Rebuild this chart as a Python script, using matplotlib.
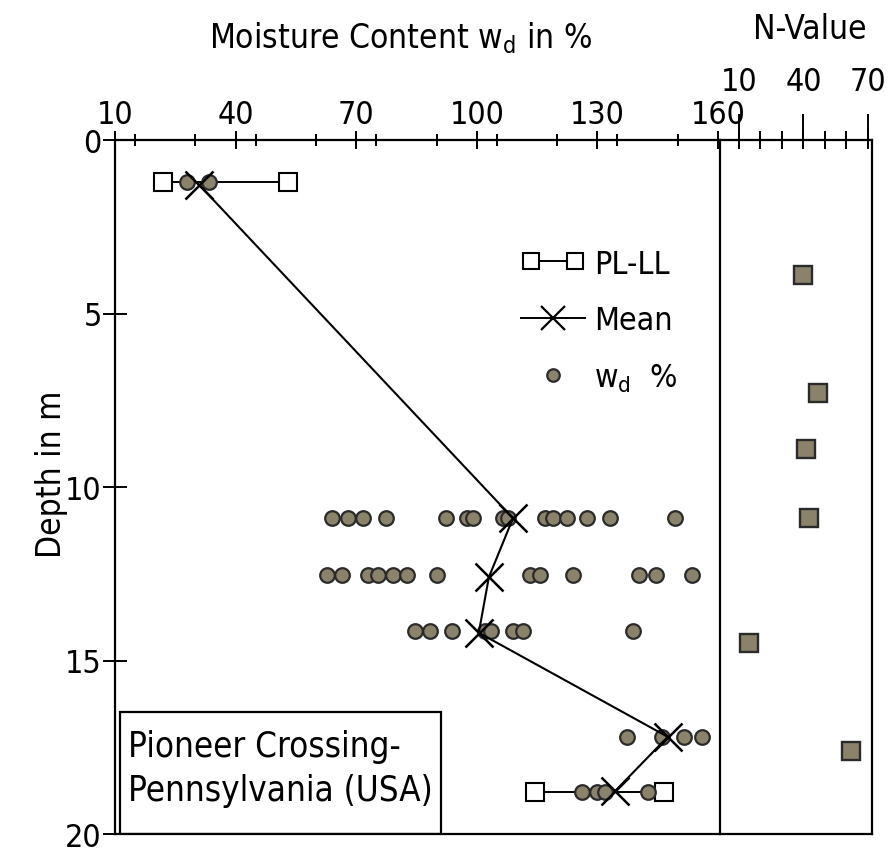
import matplotlib
matplotlib.use("Agg")
import matplotlib.pyplot as plt
from matplotlib.lines import Line2D
from matplotlib.legend_handler import HandlerLine2D
from matplotlib.patches import Rectangle
from matplotlib.ticker import FixedLocator, MultipleLocator

# plastic / liquid limits at the two depths where they were measured
limit_depth = [1.2, 18.8]
plastic_limit = [22, 114.5]
liquid_limit = [53, 146.5]

# mean moisture content per depth
mean_depth = [1.3, 10.9, 12.6, 14.2, 17.2, 18.75]
mean_wd = [31, 109, 103, 100.5, 147.5, 134.5]

# single w_d readings
wd_depth = ([1.2] * 2 + [10.9] * 15 + [12.55] * 13 + [14.15] * 8
            + [17.2] * 4 + [18.8] * 4)
wd_value = [28, 33.5,
            64, 68, 71.7, 77.4, 92.3, 97.6, 99.1, 106.5, 107.8, 117, 119,
            122.4, 127.4, 133.1, 149.3,
            62.7, 66.5, 72.9, 75.4, 79.2, 82.6, 90.1, 113.2, 115.7, 123.9,
            140.3, 144.6, 153.5,
            84.6, 88.4, 93.8, 102, 103.5, 109, 111.5, 138.9,
            137.4, 146.1, 151.5, 156,
            126.2, 129.9, 131.9, 142.6]

# SPT N-values
n_depth = [3.9, 7.3, 8.9, 10.9, 14.5, 17.6]
n_value = [39.8, 46.7, 41.2, 42.6, 14.7, 62.1]

wd_ticks = [10, 40, 70, 100, 130, 160]
n_ticks = [10, 40, 70]
depth_ticks = [0, 5, 10, 15, 20]

FILL = "#8a826b"
EDGE = "#2a2a2a"
FS = 23

plt.rcParams["font.family"] = ["DejaVu Sans"]
plt.rcParams["font.stretch"] = "condensed"

fig = plt.figure(figsize=(8.91, 8.54), dpi=100)
ax = fig.add_axes([115 / 891, 19 / 854, 605 / 891, 694 / 854])
axn = fig.add_axes([720 / 891, 19 / 854, 152 / 891, 694 / 854])

# moisture panel
for d, pl, ll in zip(limit_depth, plastic_limit, liquid_limit):
    ax.plot([pl, ll], [d, d], "-s", color="k", lw=1.4, ms=12.5,
            mfc="white", mec="k", mew=1.5, zorder=3)
ax.plot(wd_value, wd_depth, "o", ms=10.5, mfc=FILL, mec=EDGE, mew=1.6,
        linestyle="none", zorder=4)
ax.plot(mean_wd, mean_depth, "-x", color="k", lw=1.5, ms=20, mew=1.8,
        zorder=5)

ax.set_xlim(10, 160.5)
ax.set_ylim(20, 0)
ax.xaxis.tick_top()
ax.xaxis.set_label_position("top")
ax.xaxis.set_major_locator(FixedLocator(wd_ticks))
ax.xaxis.set_minor_locator(MultipleLocator(15))
ax.yaxis.set_major_locator(FixedLocator(depth_ticks))
ax.tick_params(axis="x", which="major", direction="inout", length=13,
               width=1.4, labelsize=FS, pad=1)
ax.tick_params(axis="x", which="minor", direction="inout", length=8,
               width=1.4)
ax.tick_params(axis="y", direction="inout", length=17, width=1.4,
               labelsize=FS, pad=1)
for s in ax.spines.values():
    s.set_linewidth(1.6)
ax.spines["right"].set_visible(False)

ax.set_xlabel("Moisture Content w$_\\mathregular{d}$ in %", fontsize=FS + 1)
ax.xaxis.set_label_coords(0.471, 1.148)
ax.xaxis.label.set_va("center")
ax.set_ylabel("Depth in m", fontsize=FS + 1)
ax.yaxis.set_label_coords(-0.105, 0.52)
ax.yaxis.label.set_va("center")

# site label box
ax.add_patch(Rectangle((0.008, 0), 0.531, 0.176, transform=ax.transAxes,
                       fill=False, lw=1.6, ec="k", zorder=6))
ax.text(0.022, 0.095, "Pioneer Crossing-\nPennsylvania (USA)",
        transform=ax.transAxes, fontsize=25, va="center", ha="left",
        linespacing=1.35, zorder=7)

handles = [
    Line2D([], [], color="k", lw=1.4, marker="s", ms=11, mfc="white",
           mec="k", mew=1.5),
    Line2D([], [], color="k", lw=1.4, marker="x", ms=17, mew=1.6),
    Line2D([], [], linestyle="none", marker="o", ms=9, mfc=FILL, mec=EDGE,
           mew=1.6),
]
labels = ["PL-LL", "Mean", "w$_\\mathregular{d}$  %"]
ax.legend(handles, labels, loc="upper left",
          bbox_to_anchor=(0.65, 0.862), frameon=False, fontsize=FS,
          handlelength=2.0, handletextpad=0.3, labelspacing=0.8,
          borderaxespad=0,
          handler_map={handles[0]: HandlerLine2D(numpoints=2),
                       handles[1]: HandlerLine2D(numpoints=1),
                       handles[2]: HandlerLine2D(numpoints=1)})

# N-value panel
axn.plot(n_value, n_depth, "s", ms=12.5, mfc=FILL, mec=EDGE, mew=1.7,
         zorder=4)
axn.set_xlim(1.2, 71.9)
axn.set_ylim(20, 0)
axn.xaxis.tick_top()
axn.xaxis.set_label_position("top")
axn.xaxis.set_major_locator(FixedLocator(n_ticks))
axn.xaxis.set_minor_locator(MultipleLocator(10))
axn.xaxis.remove_overlapping_locs = False
axn.tick_params(axis="x", which="major", direction="out", length=19,
                width=1.4, labelsize=FS, pad=12)
axn.tick_params(axis="x", which="minor", direction="inout", length=13,
                width=1.4)
axn.set_yticks([])
for s in axn.spines.values():
    s.set_linewidth(1.6)
axn.set_xlabel("N-Value", fontsize=FS + 1)
axn.xaxis.set_label_coords(0.59, 1.16)
axn.xaxis.label.set_va("center")

fig.savefig("out.png", dpi=100)
